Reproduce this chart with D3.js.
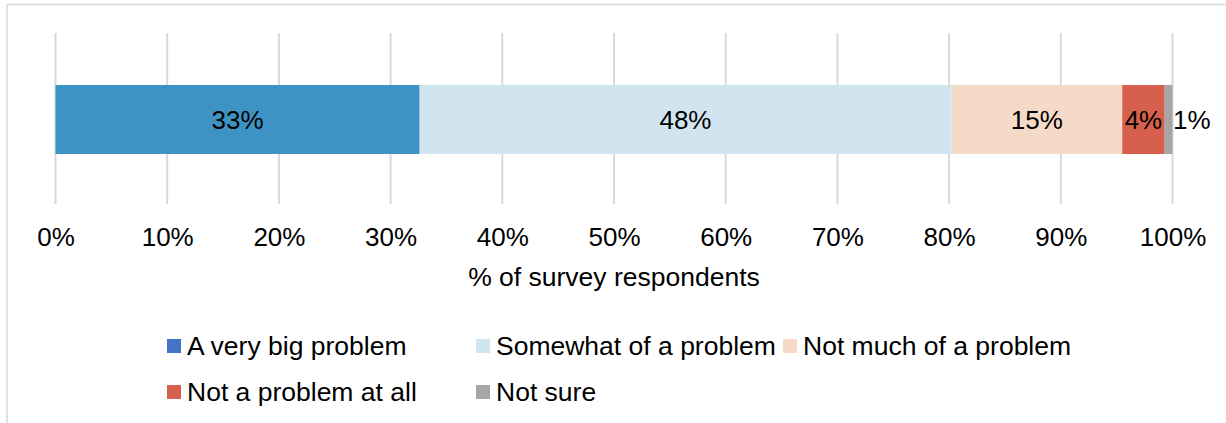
<!DOCTYPE html>
<html>
<head>
<meta charset="utf-8">
<script src="https://cdn.jsdelivr.net/npm/d3@7"></script>
<style>
  body { margin: 0; background: #fff; }
  svg { display: block; font-family: "Liberation Sans", Arial, sans-serif; }
</style>
</head>
<body>
<div id="chart"></div>
<script>
// Stacked 100% bar: how big a problem (one row)
const categories = ["A very big problem", "Somewhat of a problem", "Not much of a problem", "Not a problem at all", "Not sure"];
const values = [32.6, 47.6, 15.3, 3.8, 0.7];
const barColors = ["#3d93c3", "#d1e5f0", "#f5dac8", "#d6604d", "#a6a6a6"];
const legendColors = ["#4472c4", "#d1e5f0", "#f5dac8", "#d6604d", "#a6a6a6"];
const tickValues = [0, 10, 20, 30, 40, 50, 60, 70, 80, 90, 100];

const width = 1226, height = 423;
const svg = d3.select("#chart").append("svg")
  .attr("width", width).attr("height", height);

// chart frame (only top and left edges fall inside the picture)
svg.append("rect")
  .attr("x", 7).attr("y", 4.5).attr("width", width + 20).attr("height", height + 20)
  .attr("fill", "none").attr("stroke", "#d9d9d9").attr("stroke-width", 1.5);

const x = d3.scaleLinear().domain([0, 100]).range([55.5, 1172.5]);

// gridlines
svg.append("g").selectAll("line").data(tickValues).join("line")
  .attr("x1", d => x(d)).attr("x2", d => x(d))
  .attr("y1", 33).attr("y2", 204)
  .attr("stroke", "#d9d9d9").attr("stroke-width", 2);

// axis labels
const axis = d3.axisBottom(x).tickValues(tickValues).tickFormat(d => d + "%").tickSize(0).tickPadding(0);
const ax = svg.append("g").attr("transform", "translate(0,228)").call(axis);
ax.select(".domain").remove();
ax.selectAll("text").attr("dy", "0.71em").attr("fill", "#000")
  .style("font-size", "26px").style("font-family", "Liberation Sans, Arial, sans-serif");

svg.append("text")
  .attr("x", (x(0) + x(100)) / 2).attr("y", 286)
  .attr("text-anchor", "middle").style("font-size", "26.5px")
  .text("% of survey respondents");

// stacked segments
const row = {};
categories.forEach((c, i) => row[c] = values[i]);
const series = d3.stack().keys(categories)([row]);
const color = d3.scaleOrdinal().domain(categories).range(barColors);

const barTop = 85, barH = 69;
svg.append("g").selectAll("rect").data(series).join("rect")
  .attr("x", d => x(d[0][0]))
  .attr("width", d => x(d[0][1]) - x(d[0][0]))
  .attr("y", barTop).attr("height", barH)
  .attr("fill", d => color(d.key));

svg.append("g").selectAll("text").data(series).join("text")
  .attr("x", d => d.key === "Not sure" ? x(d[0][1]) + 0.5 : (x(d[0][0]) + x(d[0][1])) / 2)
  .attr("y", barTop + barH / 2)
  .attr("dy", "0.36em")
  .attr("text-anchor", d => d.key === "Not sure" ? "start" : "middle")
  .style("font-size", "26px")
  .text(d => Math.round(d[0][1] - d[0][0]) + "%");

// legend
const legendPos = [[167, 339], [476, 339], [783, 339], [167, 385], [476, 385]];
const lg = svg.append("g").selectAll("g").data(categories).join("g")
  .attr("transform", (d, i) => `translate(${legendPos[i][0]},${legendPos[i][1]})`);
lg.append("rect").attr("width", 14).attr("height", 14)
  .attr("fill", (d, i) => legendColors[i]);
lg.append("text").attr("x", 20).attr("y", 16)
  .style("font-size", "26.5px").text(d => d);
</script>
</body>
</html>
